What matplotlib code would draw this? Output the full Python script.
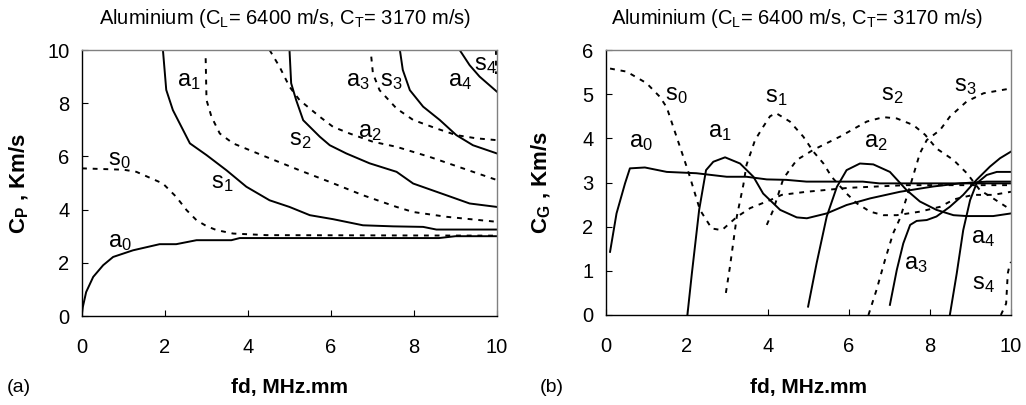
import matplotlib
matplotlib.use("Agg")
import matplotlib.pyplot as plt

plt.rcParams['font.family'] = ['Liberation Sans', 'DejaVu Sans']
plt.rcParams['mathtext.fontset'] = 'custom'
plt.rcParams['mathtext.rm'] = 'Liberation Sans'
plt.rcParams['mathtext.it'] = 'Liberation Sans:italic'
plt.rcParams['mathtext.bf'] = 'Liberation Sans:bold'

# ---------------- (a) phase velocity ----------------
cp_a0_fd = [0, 0.02, 0.1, 0.27, 0.51, 0.75, 1.23, 1.87, 2.27, 2.76, 3.6, 3.8, 8.6, 9.0, 10]
cp_a0 = [0.1, 0.34, 0.9, 1.47, 1.91, 2.22, 2.47, 2.70, 2.70, 2.85, 2.85, 2.93, 2.93, 3.0, 3.0]
cp_s0_fd = [0, 1.0, 1.31, 1.95, 2.27, 2.52, 2.76, 3.0, 3.24, 3.64, 4.44, 10]
cp_s0 = [5.55, 5.5, 5.42, 4.98, 4.48, 3.98, 3.6, 3.38, 3.23, 3.10, 3.04, 3.02]
cp_a1_fd = [1.95, 2.03, 2.19, 2.6, 3.0, 3.48, 3.96, 4.52, 5.0, 5.49, 6.05, 6.77, 7.5, 8.22, 8.54, 10]
cp_a1 = [10, 8.5, 7.74, 6.49, 6.05, 5.48, 4.86, 4.35, 4.1, 3.79, 3.64, 3.41, 3.37, 3.35, 3.25, 3.25]
cp_s1_fd = [2.98, 3.0, 3.12, 3.32, 3.64, 4.44, 5.24, 5.97, 6.77, 7.58, 7.98, 8.78, 10]
cp_s1 = [9.69, 8.12, 7.49, 6.86, 6.49, 5.98, 5.48, 5.04, 4.54, 4.1, 3.91, 3.73, 3.54]
cp_a2_fd = [4.52, 4.76, 5.0, 5.24, 5.73, 6.05, 6.45, 7.01, 7.58, 8.38, 9.18, 10]
cp_a2 = [10, 9.37, 8.62, 8.12, 7.49, 7.11, 6.86, 6.55, 6.36, 5.98, 5.55, 5.11]
cp_s2_fd = [5.0, 5.04, 5.16, 5.33, 5.73, 5.97, 6.37, 6.93, 7.58, 7.98, 8.78, 9.34, 10]
cp_s2 = [10, 8.75, 8.12, 7.36, 6.74, 6.42, 6.11, 5.74, 5.42, 4.98, 4.54, 4.23, 4.1]
cp_s3_fd = [6.97, 7.01, 7.17, 7.58, 7.98, 8.54, 9.02, 9.5, 10]
cp_s3 = [9.75, 9.12, 8.49, 7.8, 7.37, 7.05, 6.8, 6.68, 6.61]
cp_a3_fd = [7.66, 7.73, 7.9, 8.22, 8.62, 9.02, 9.42, 10]
cp_a3 = [10, 9.25, 8.49, 7.87, 7.37, 6.8, 6.42, 6.11]
cp_a4_fd = [9.1, 9.34, 9.58, 10]
cp_a4 = [10, 9.43, 9.0, 8.43]
cp_s4_fd = [9.97, 9.97]
cp_s4 = [10, 9.1]

# ---------------- (b) group velocity ----------------
cg_a0_fd = [0.1, 0.26, 0.47, 0.59, 0.96, 1.5, 2.23, 2.98, 3.47, 3.97, 4.45, 4.95, 6.34, 6.75, 10]
cg_a0 = [1.43, 2.3, 2.98, 3.32, 3.34, 3.24, 3.21, 3.13, 3.13, 3.07, 3.06, 3.02, 3.02, 2.98, 2.98]
cg_s0_fd = [0.1, 0.51, 1.0, 1.33, 1.5, 1.66, 1.91, 2.03, 2.32, 2.61, 2.86, 3.23, 3.56, 4.05, 4.34, 4.95, 6.0, 7.4, 10]
cg_s0 = [5.58, 5.51, 5.25, 4.94, 4.7, 4.26, 3.58, 3.25, 2.38, 1.96, 1.92, 2.22, 2.42, 2.6, 2.72, 2.79, 2.88, 2.94, 2.94]
cg_a1_fd = [2.01, 2.12, 2.3, 2.47, 2.65, 2.94, 3.31, 3.64, 3.88, 4.30, 4.71, 4.96, 5.45, 5.94, 6.52, 7.26, 8.08, 8.74, 9.4, 10]
cg_a1 = [0, 0.94, 2.38, 3.28, 3.47, 3.57, 3.43, 3.13, 2.75, 2.38, 2.21, 2.19, 2.30, 2.49, 2.64, 2.79, 2.91, 2.98, 3.02, 3.02]
cg_s1_fd = [2.96, 3.06, 3.23, 3.39, 3.47, 3.68, 3.88, 4.05, 4.2, 4.54, 4.87, 5.12, 5.37, 5.57, 5.94, 6.19, 6.52,
            6.85, 7.18, 7.75, 8.25, 8.6, 9.07, 9.56, 10]
cg_s1 = [0.5, 1.09, 2.23, 2.94, 3.40, 3.96, 4.26, 4.5, 4.57, 4.38, 4.04, 3.70, 3.43, 3.13, 2.75, 2.53, 2.34,
         2.26, 2.26, 2.34, 2.45, 2.62, 2.72, 2.72, 2.79]
cg_a2_fd = [4.99, 5.2, 5.45, 5.7, 5.94, 6.27, 6.6, 7.01, 7.42, 7.75, 8.16, 8.58, 8.91, 9.56, 10]
cg_a2 = [0.19, 1.17, 2.23, 2.9, 3.28, 3.43, 3.41, 3.24, 2.83, 2.57, 2.38, 2.26, 2.24, 2.24, 2.30]
cg_s2_fd = [3.97, 4.13, 4.38, 4.71, 5.12, 5.78, 6.44, 6.85, 7.18, 7.59, 7.88, 8.16, 8.58, 8.91, 9.23, 9.56, 10]
cg_s2 = [2.04, 2.38, 3.09, 3.51, 3.74, 4.04, 4.38, 4.48, 4.45, 4.30, 4.08, 3.77, 3.51, 3.21, 2.83, 2.64, 2.38]
cg_a3_fd = [7.01, 7.18, 7.34, 7.51, 7.67, 7.92, 8.16, 8.49, 8.82, 9.15, 9.48, 9.73, 10]
cg_a3 = [0.23, 1.02, 1.62, 2.04, 2.13, 2.15, 2.23, 2.45, 2.72, 3.06, 3.36, 3.55, 3.70]
cg_s3_fd = [6.48, 6.68, 6.89, 7.09, 7.26, 7.43, 7.59, 7.75, 7.92, 8.25, 8.49, 8.9, 9.32, 10]
cg_s3 = [0, 0.57, 1.25, 1.85, 2.19, 2.68, 3.17, 3.66, 3.96, 4.19, 4.49, 4.83, 5.02, 5.13]
cg_a4_fd = [8.49, 8.66, 8.82, 8.99, 9.15, 9.4, 9.65, 10]
cg_a4 = [0, 0.94, 1.92, 2.6, 2.98, 3.17, 3.24, 3.24]
cg_s4_fd = [9.75, 9.88, 9.92, 9.97, 10]
cg_s4 = [0, 0.26, 0.94, 1.15, 1.2]

# labels
cp_label_text = ['a_0', 's_0', 'a_1', 's_1', 's_2', 'a_2', 'a_3', 's_3', 'a_4', 's_4']
cp_label_x = [0.91, 0.91, 2.57, 3.37, 5.26, 6.93, 6.65, 7.46, 9.10, 9.72]
cp_label_y = [2.79, 5.86, 8.85, 5.01, 6.61, 6.93, 8.85, 8.85, 8.85, 9.44]
cg_label_text = ['s_0', 's_1', 's_2', 's_3', 'a_0', 'a_1', 'a_2', 'a_3', 'a_4', 's_4']
cg_label_x = [1.74, 4.21, 7.06, 8.86, 0.87, 2.82, 6.67, 7.66, 9.31, 9.31]
cg_label_y = [4.98, 4.94, 4.98, 5.19, 3.91, 4.14, 3.91, 1.15, 1.74, 0.70]

title = r'Aluminium (C$_\mathregular{L}$= 6400 m/s, C$_\mathregular{T}$= 3170 m/s)'

fig = plt.figure(figsize=(10.26, 4.05), dpi=100)
W, H = 1026, 405
axA = fig.add_axes([82 / W, 1 - 316 / H, 415 / W, 266 / H])
axB = fig.add_axes([606 / W, 1 - 315 / H, 405 / W, 265 / H])

SOLID = dict(color='black', lw=1.4, ls='-')
DASH = dict(color='black', lw=1.4, ls=(0, (2.5, 3)))

solidA = [(cp_a0_fd, cp_a0), (cp_a1_fd, cp_a1), (cp_s2_fd, cp_s2), (cp_a3_fd, cp_a3), (cp_a4_fd, cp_a4)]
dashA = [(cp_s0_fd, cp_s0), (cp_s1_fd, cp_s1), (cp_a2_fd, cp_a2), (cp_s3_fd, cp_s3), (cp_s4_fd, cp_s4)]
for x, y in solidA:
    axA.plot(x, y, **SOLID)
for x, y in dashA:
    axA.plot(x, y, **DASH)

solidB = [(cg_a0_fd, cg_a0), (cg_a1_fd, cg_a1), (cg_a2_fd, cg_a2), (cg_a3_fd, cg_a3), (cg_a4_fd, cg_a4)]
dashB = [(cg_s0_fd, cg_s0), (cg_s1_fd, cg_s1), (cg_s2_fd, cg_s2), (cg_s3_fd, cg_s3), (cg_s4_fd, cg_s4)]
for x, y in solidB:
    axB.plot(x, y, **SOLID)
for x, y in dashB:
    axB.plot(x, y, **DASH)

for t, x, y in zip(cp_label_text, cp_label_x, cp_label_y):
    axA.text(x, y, r'$\mathregular{%s}$' % t, fontsize=17, ha='center', va='center')
for t, x, y in zip(cg_label_text, cg_label_x, cg_label_y):
    axB.text(x, y, r'$\mathregular{%s}$' % t, fontsize=17, ha='center', va='center')

for ax, ymax, ystep in [(axA, 10, 2), (axB, 6, 1)]:
    ax.set_xlim(0, 10)
    ax.set_ylim(0, ymax)
    ax.set_xticks(range(0, 11, 2))
    ax.set_yticks(range(0, ymax + 1, ystep))
    ax.tick_params(axis='both', direction='in', length=4, width=0.8, labelsize=14.5)
    ax.tick_params(axis='x', pad=16)
    ax.tick_params(axis='y', pad=9)
    for s in ['left', 'bottom']:
        ax.spines[s].set_color('black')
        ax.spines[s].set_linewidth(1.0)
    for s in ['top', 'right']:
        ax.spines[s].set_color('#808080')
        ax.spines[s].set_linewidth(1.0)
    ax.set_xlabel('fd, MHz.mm', fontsize=15, fontweight='bold')
    ax.xaxis.label.set_va('center')

axA.xaxis.set_label_coords(0.5, -(387 - 316) / 266)
axB.xaxis.set_label_coords(0.5, -(387 - 315) / 265)
axA.set_ylabel(r'$\mathbf{C_P}$ , Km/s', fontsize=16, fontweight='bold')
axB.set_ylabel(r'$\mathbf{C_G}$ , Km/s', fontsize=16, fontweight='bold')
axA.yaxis.set_label_coords(-(82 - 19) / 415, 0.5)
axB.yaxis.set_label_coords(-(606 - 541) / 405, 0.5)
axA.yaxis.label.set_va('center')
axB.yaxis.label.set_va('center')

fig.text(285 / W, 1 - 18 / H, title, fontsize=14.5, ha='center', va='center')
fig.text(797 / W, 1 - 18 / H, title, fontsize=14.5, ha='center', va='center')
fig.text(7 / W, 1 - 388 / H, '(a)', fontsize=14, ha='left', va='center')
fig.text(540 / W, 1 - 388 / H, '(b)', fontsize=14, ha='left', va='center')

fig.savefig('out.png', dpi=100)
